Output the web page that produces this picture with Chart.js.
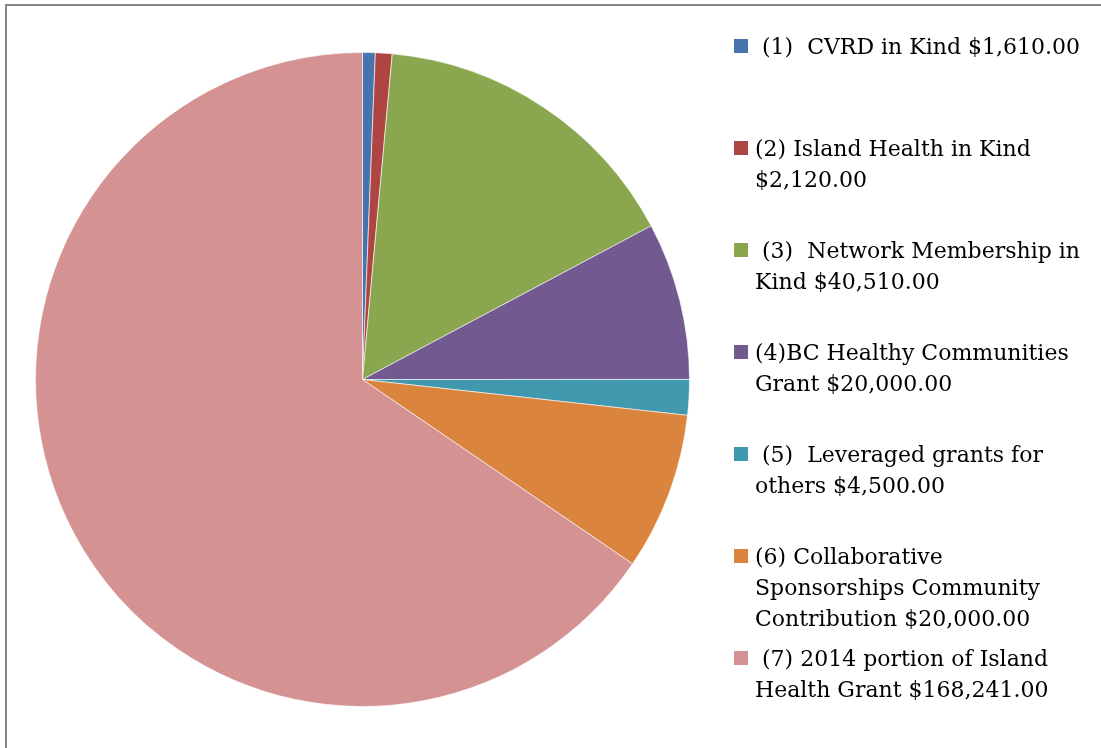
<!DOCTYPE html>
<html lang="en">
<head>
    <meta charset="UTF-8">
    <title>2014 Funding Sources</title>
    <script src="https://cdn.jsdelivr.net/npm/chart.js"></script>
    <style>
        html, body { margin: 0; padding: 0; background: #fff; }
        #wrap { position: relative; width: 1101px; height: 748px; overflow: hidden; }
        #frame { position: absolute; left: 5px; top: 4px; width: 1200px; height: 900px;
                 border-left: 2px solid #858585; border-top: 2px solid #858585; }
        #pieChart { position: absolute; left: 0; top: 0; }
        #legend { position: absolute; left: 0; top: 0; font-family: "DejaVu Serif", serif;
                  font-size: 22px; line-height: 31px; color: #000; }
        .item { position: absolute; left: 734px; white-space: pre; }
        .box { position: absolute; left: 0; top: 8px; width: 14px; height: 14px; }
        .txt { position: absolute; left: 21px; top: 0; }
    </style>
</head>
<body>
<div id="wrap">
    <div id="frame"></div>
    <canvas id="pieChart" width="1101" height="748"></canvas>
    <div id="legend"></div>
</div>

<script>
    // libellés (une ligne par entrée du tableau)
    const labels = [
        [' (1)  CVRD in Kind $1,610.00'],
        ['(2) Island Health in Kind', '$2,120.00'],
        [' (3)  Network Membership in', 'Kind $40,510.00'],
        ['(4)BC Healthy Communities', 'Grant $20,000.00'],
        [' (5)  Leveraged grants for', 'others $4,500.00'],
        ['(6) Collaborative', 'Sponsorships Community', 'Contribution $20,000.00'],
        [' (7) 2014 portion of Island', 'Health Grant $168,241.00']
    ];
    const amounts = [1610, 2120, 40510, 20000, 4500, 20000, 168241];
    const colors = ['#4674AC', '#AF4542', '#8AA64F', '#725A91', '#4199B0', '#DB843D', '#D49392'];

    const ctx = document.getElementById('pieChart').getContext('2d');
    const chart = new Chart(ctx, {
        type: 'pie',
        data: {
            labels: labels,
            datasets: [{
                data: amounts,
                backgroundColor: colors,
                borderColor: 'rgba(255,255,255,0.6)',
                borderWidth: 1
            }]
        },
        options: {
            responsive: false,
            animation: false,
            layout: { padding: { left: 35, top: 52, right: 411, bottom: 41 } },
            plugins: {
                legend: { display: false },
                tooltip: { enabled: false }
            }
        }
    });

    // légende html à droite
    const legend = document.getElementById('legend');
    chart.data.labels.forEach((lines, i) => {
        const item = document.createElement('div');
        item.className = 'item';
        item.style.top = (31 + i * 102) + 'px';
        const box = document.createElement('div');
        box.className = 'box';
        box.style.background = chart.data.datasets[0].backgroundColor[i];
        const txt = document.createElement('div');
        txt.className = 'txt';
        txt.textContent = lines.join('\n');
        item.appendChild(box);
        item.appendChild(txt);
        legend.appendChild(item);
    });
</script>
</body>
</html>
